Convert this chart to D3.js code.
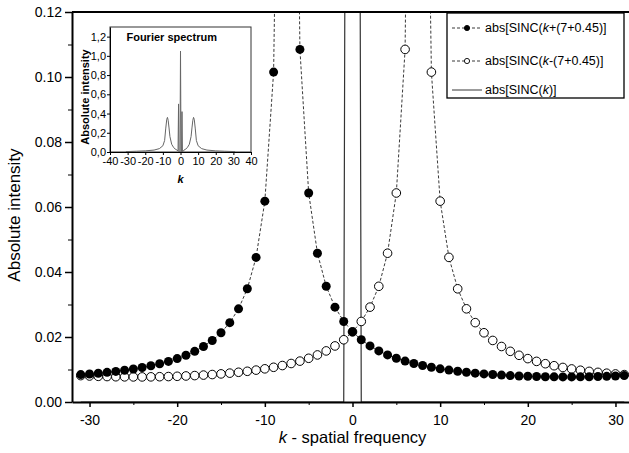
<!DOCTYPE html>
<html>
<head>
<meta charset="utf-8">
<script src="https://cdn.jsdelivr.net/npm/d3@7"></script>
<style>
    body { margin: 0; background: #fff; }
    svg { font-family: Arial, "Liberation Sans", sans-serif; }
    .axis path, .axis line { stroke: #000; }
    .axis text { fill: #000; }
</style>
</head>
<body>
<div id="chart"></div>
<script>
// spatial frequency samples
var kValues = [-31, -30, -29, -28, -27, -26, -25, -24, -23, -22, -21, -20, -19, -18, -17, -16,
    -15, -14, -13, -12, -11, -10, -9, -8, -7, -6, -5, -4, -3, -2, -1, 0,
    1, 2, 3, 4, 5, 6, 7, 8, 9, 10, 11, 12, 13, 14, 15, 16,
    17, 18, 19, 20, 21, 22, 23, 24, 25, 26, 27, 28, 29, 30, 31];

// abs[SINC(k+(7+0.45))]  (filled circles)
var sincPlus = [0.00843, 0.00863, 0.00886, 0.00912, 0.00942, 0.00977, 0.01017, 0.01063,
    0.01116, 0.01178, 0.01250, 0.01335, 0.01437, 0.01559, 0.01708, 0.01894,
    0.02130, 0.02442, 0.02867, 0.03483, 0.04450, 0.06180, 0.10151, 0.2858,
    0.3493, 0.10849, 0.06431, 0.04578, 0.03560, 0.02919, 0.02478, 0.02158,
    0.01915, 0.01725, 0.01572, 0.01448, 0.01345, 0.01258, 0.01185, 0.01122,
    0.01068, 0.01021, 0.00981, 0.00945, 0.00915, 0.00888, 0.00865, 0.00845,
    0.00828, 0.00813, 0.00801, 0.00791, 0.00783, 0.00778, 0.00774, 0.00772,
    0.00772, 0.00774, 0.00777, 0.00783, 0.00790, 0.00800, 0.00812];

// abs[SINC(k-(7+0.45))]  (open circles)
var sincMinus = [0.00812, 0.00800, 0.00790, 0.00783, 0.00777, 0.00774, 0.00772, 0.00772,
    0.00774, 0.00778, 0.00783, 0.00791, 0.00801, 0.00813, 0.00828, 0.00845,
    0.00865, 0.00888, 0.00915, 0.00945, 0.00981, 0.01021, 0.01068, 0.01122,
    0.01185, 0.01258, 0.01345, 0.01448, 0.01572, 0.01725, 0.01915, 0.02158,
    0.02478, 0.02919, 0.03560, 0.04578, 0.06431, 0.10849, 0.3493, 0.2858,
    0.10151, 0.06180, 0.04450, 0.03483, 0.02867, 0.02442, 0.02130, 0.01894,
    0.01708, 0.01559, 0.01437, 0.01335, 0.01250, 0.01178, 0.01116, 0.01063,
    0.01017, 0.00977, 0.00942, 0.00912, 0.00886, 0.00863, 0.00843];

// abs[SINC(k)]  (solid line)
var sincZero = [0, 0, 0, 0, 0, 0, 0, 0, 0, 0, 0, 0, 0, 0, 0, 0,
    0, 0, 0, 0, 0, 0, 0, 0, 0, 0, 0, 0, 0, 0, 0, 1,
    0, 0, 0, 0, 0, 0, 0, 0, 0, 0, 0, 0, 0, 0, 0, 0,
    0, 0, 0, 0, 0, 0, 0, 0, 0, 0, 0, 0, 0, 0, 0];

var xTicks = [-30, -20, -10, 0, 10, 20, 30];
var xMinorTicks = [-25, -15, -5, 5, 15, 25];
var yTicks = [0, 0.02, 0.04, 0.06, 0.08, 0.10, 0.12];
var yMinorTicks = [0.01, 0.03, 0.05, 0.07, 0.09, 0.11];

// inset: Fourier spectrum
var insetK = [-31, -25, -20, -15, -12, -10, -9, -8.4, -7.8, -7.4, -7.0, -6.5, -6, -5, -4, -3, -2,
    -1.4, -1.1, -0.9, -0.3, 0, 0.3, 0.6, 0.85, 1.1,
    2, 3, 4, 5, 6, 6.5, 7.0, 7.4, 7.8, 8.4, 9, 10, 12, 15, 20, 25, 31];
var insetAmp = [0.004, 0.008, 0.012, 0.02, 0.035, 0.065, 0.12, 0.24, 0.34, 0.36, 0.33, 0.25, 0.16, 0.08, 0.05, 0.03, 0.02,
    0.012, 0.50, 0.0, 0.0, 1.05, 0.0, 0.0, 0.42, 0.0,
    0.02, 0.03, 0.05, 0.08, 0.16, 0.25, 0.33, 0.36, 0.34, 0.24, 0.12, 0.065, 0.035, 0.02, 0.012, 0.008, 0.004];
var insetXTicks = [-40, -30, -20, -10, 0, 10, 20, 30, 40];
var insetYTicks = [0, 0.2, 0.4, 0.6, 0.8, 1.0, 1.2];

var margin = { top: 12, left: 72 };
var width = 561, height = 390;

// plain hyphen for negatives, as in the original figure
var intFmt = function(d) { return String(d); };

var svg = d3.select("#chart").append("svg")
    .attr("width", 629)
    .attr("height", 453);

var g = svg.append("g")
    .attr("transform", "translate(" + margin.left + "," + margin.top + ")");

var x = d3.scaleLinear().domain([-32, 32]).range([0, width]);
var y = d3.scaleLinear().domain([0, 0.12]).range([height, 0]);

g.append("clipPath").attr("id", "plot-clip")
    .append("rect")
    .attr("x", 0).attr("y", 0)
    .attr("width", width).attr("height", height);

function toPoints(vals) {
    return kValues.map(function(k, i) { return { k: k, v: vals[i] }; });
}

var line = d3.line()
    .x(function(d) { return x(d.k); })
    .y(function(d) { return y(d.v); });

var plot = g.append("g").attr("clip-path", "url(#plot-clip)");

// solid sinc(k)
plot.append("path")
    .datum(toPoints(sincZero))
    .attr("d", line)
    .attr("fill", "none")
    .attr("stroke", "#333")
    .attr("stroke-width", 1.2);

// open circle series
plot.append("path")
    .datum(toPoints(sincMinus))
    .attr("d", line)
    .attr("fill", "none")
    .attr("stroke", "#222")
    .attr("stroke-width", 0.9)
    .attr("stroke-dasharray", "3,2");

plot.selectAll(".open")
    .data(toPoints(sincMinus))
    .enter().append("circle")
    .attr("class", "open")
    .attr("cx", function(d) { return x(d.k); })
    .attr("cy", function(d) { return y(d.v); })
    .attr("r", 4.3)
    .attr("fill", "#fff")
    .attr("stroke", "#000")
    .attr("stroke-width", 1);

// filled circle series
plot.append("path")
    .datum(toPoints(sincPlus))
    .attr("d", line)
    .attr("fill", "none")
    .attr("stroke", "#222")
    .attr("stroke-width", 0.9)
    .attr("stroke-dasharray", "3,2");

plot.selectAll(".filled")
    .data(toPoints(sincPlus))
    .enter().append("circle")
    .attr("class", "filled")
    .attr("cx", function(d) { return x(d.k); })
    .attr("cy", function(d) { return y(d.v); })
    .attr("r", 4.5)
    .attr("fill", "#000");

// axes
var xAxis = g.append("g")
    .attr("class", "axis")
    .attr("transform", "translate(0," + height + ")")
    .call(d3.axisBottom(x).tickValues(xTicks).tickFormat(intFmt).tickSize(5).tickPadding(8).tickSizeOuter(0));
xAxis.select(".domain").attr("stroke-width", 2);
xAxis.selectAll(".tick line").attr("stroke-width", 1.5);
xAxis.selectAll("text").style("font-size", "14px");

g.append("g")
    .attr("class", "axis")
    .attr("transform", "translate(0," + height + ")")
    .call(d3.axisBottom(x).tickValues(xMinorTicks).tickSize(3).tickFormat("").tickSizeOuter(0))
    .select(".domain").remove();

var yAxis = g.append("g")
    .attr("class", "axis")
    .call(d3.axisLeft(y).tickValues(yTicks).tickFormat(d3.format(".2f")).tickSize(7).tickPadding(3).tickSizeOuter(0));
yAxis.select(".domain").attr("stroke-width", 2);
yAxis.selectAll(".tick line").attr("stroke-width", 1.5);
yAxis.selectAll("text").style("font-size", "14px");

g.append("g")
    .attr("class", "axis")
    .call(d3.axisLeft(y).tickValues(yMinorTicks).tickSize(4).tickFormat("").tickSizeOuter(0))
    .select(".domain").remove();

// top frame
g.append("line")
    .attr("x1", 0).attr("x2", width)
    .attr("y1", 0).attr("y2", 0)
    .attr("stroke", "#000")
    .attr("stroke-width", 2);

// axis titles
var xTitle = g.append("text")
    .attr("x", x(0))
    .attr("y", height + 41)
    .attr("text-anchor", "middle")
    .style("font-size", "16.5px");
xTitle.append("tspan").style("font-style", "italic").text("k");
xTitle.append("tspan").text(" - spatial frequency");

svg.append("text")
    .attr("text-anchor", "middle")
    .attr("transform", "translate(20," + 215 + ")rotate(-90)")
    .style("font-size", "17px")
    .text("Absolute intensity");

// legend
var legend = svg.append("g").attr("transform", "translate(447,13)");
legend.append("rect")
    .attr("width", 177).attr("height", 85)
    .attr("fill", "#fff")
    .attr("stroke", "#000")
    .attr("stroke-width", 1.3);

var legendItems = [
    { pre: "abs[SINC(", post: "+(7+0.45)]", type: "filled", y: 15 },
    { pre: "abs[SINC(", post: "-(7+0.45)]", type: "open", y: 48 },
    { pre: "abs[SINC(", post: ")]", type: "solid", y: 77 }
];

legendItems.forEach(function(d) {
    legend.append("line")
        .attr("x1", 5).attr("x2", 35)
        .attr("y1", d.y).attr("y2", d.y)
        .attr("stroke", "#222")
        .attr("stroke-width", 0.9)
        .attr("stroke-dasharray", d.type === "solid" ? null : "3,2");
    if (d.type !== "solid") {
        legend.append("circle")
            .attr("cx", 20).attr("cy", d.y).attr("r", 2.6)
            .attr("fill", d.type === "filled" ? "#000" : "#fff")
            .attr("stroke", "#000")
            .attr("stroke-width", 0.9);
    }
    var t = legend.append("text")
        .attr("x", 38).attr("y", d.y)
        .attr("dy", "0.35em")
        .style("font-size", "12.5px");
    t.append("tspan").text(d.pre);
    t.append("tspan").style("font-style", "italic").text("k");
    t.append("tspan").text(d.post);
});

// inset
var inset = { left: 110, top: 27, width: 141, height: 125 };
var ig = svg.append("g")
    .attr("transform", "translate(" + inset.left + "," + inset.top + ")");

var ix = d3.scaleLinear().domain([-40, 40]).range([0, inset.width]);
var iy = d3.scaleLinear().domain([0, 1.3]).range([inset.height, 0]);

ig.append("rect")
    .attr("width", inset.width).attr("height", inset.height)
    .attr("fill", "#fff")
    .attr("stroke", "#333")
    .attr("stroke-width", 1);

ig.append("path")
    .datum(insetK.map(function(k, i) { return { k: k, v: insetAmp[i] }; }))
    .attr("d", d3.line()
        .x(function(d) { return ix(d.k); })
        .y(function(d) { return iy(d.v); }))
    .attr("fill", "none")
    .attr("stroke", "#666")
    .attr("stroke-width", 1);

var commaFmt = function(d) { return d3.format(".1f")(d).replace(".", ","); };

var ixAxis = ig.append("g")
    .attr("class", "axis")
    .attr("transform", "translate(0," + inset.height + ")")
    .call(d3.axisBottom(ix).tickValues(insetXTicks).tickFormat(intFmt).tickSize(3).tickPadding(2).tickSizeOuter(0));
ixAxis.selectAll("text").style("font-size", "11px");

var iyAxis = ig.append("g")
    .attr("class", "axis")
    .call(d3.axisLeft(iy).tickValues(insetYTicks).tickFormat(commaFmt).tickSize(3).tickPadding(1).tickSizeOuter(0));
iyAxis.selectAll("text").style("font-size", "11px");

ig.append("text")
    .attr("x", ix(-5))
    .attr("y", 14)
    .attr("text-anchor", "middle")
    .style("font-size", "11px")
    .style("font-weight", "bold")
    .text("Fourier spectrum");

ig.append("text")
    .attr("x", ix(0))
    .attr("y", inset.height + 31)
    .attr("text-anchor", "middle")
    .style("font-size", "11px")
    .style("font-weight", "bold")
    .style("font-style", "italic")
    .text("k");

ig.append("text")
    .attr("text-anchor", "middle")
    .attr("transform", "translate(-21," + 70 + ")rotate(-90)")
    .style("font-size", "11px")
    .style("font-weight", "bold")
    .text("Absolute intensity");
</script>
</body>
</html>
